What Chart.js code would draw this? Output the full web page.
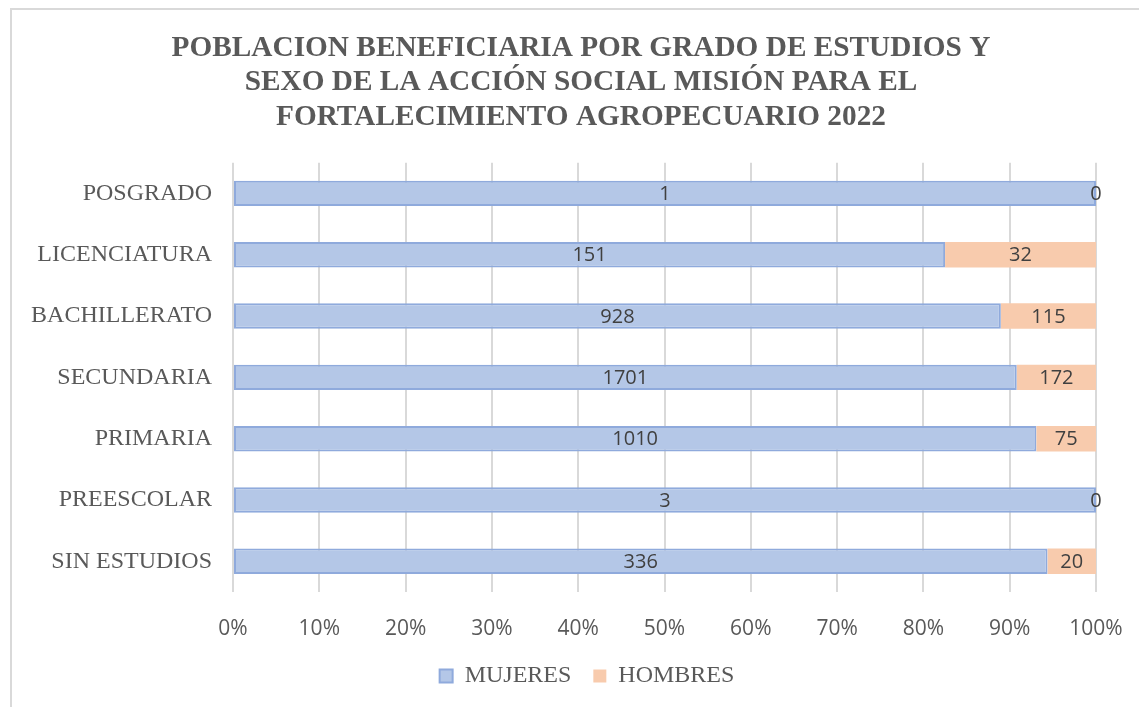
<!DOCTYPE html>
<html>
<head>
<meta charset="utf-8">
<script src="https://cdn.jsdelivr.net/npm/chart.js@4"></script>
<style>
  html, body { margin: 0; padding: 0; background: #fff; }
  #wrap { position: relative; width: 1139px; height: 707px; }
</style>
</head>
<body>
<div id="wrap"><canvas id="gradoChart" width="1139" height="707"></canvas></div>
<script>
const categorias = ['POSGRADO', 'LICENCIATURA', 'BACHILLERATO', 'SECUNDARIA', 'PRIMARIA', 'PREESCOLAR', 'SIN ESTUDIOS'];
const mujeres = [1, 151, 928, 1701, 1010, 3, 336];
const hombres = [0, 32, 115, 172, 75, 0, 20];
const tituloLineas = [
    'POBLACION BENEFICIARIA POR GRADO DE ESTUDIOS Y',
    'SEXO DE LA ACCIÓN SOCIAL MISIÓN PARA EL',
    'FORTALECIMIENTO AGROPECUARIO 2022'
];

// 100% stacked: convert counts to shares
const totales = mujeres.map((m, i) => m + hombres[i]);
const pctMujeres = mujeres.map((m, i) => m / totales[i] * 100);
const pctHombres = hombres.map((h, i) => h / totales[i] * 100);
const conteos = [mujeres, hombres];

const serif = '"Liberation Serif", "Times New Roman", serif';

const marco = {
    id: 'marco',
    beforeDraw(chart) {
        const c = chart.ctx;
        c.save();
        c.fillStyle = '#fff';
        c.fillRect(0, 0, chart.width, chart.height);
        c.strokeStyle = '#d9d9d9';
        c.lineWidth = 2;
        c.beginPath();
        c.moveTo(11, chart.height);
        c.lineTo(11, 9);
        c.lineTo(chart.width, 9);
        c.stroke();
        c.restore();
    }
};

// title and legend sit a bit right of the plot's centre in the original
const desplazar = {
    id: 'desplazar',
    afterLayout(chart) {
        if (chart.titleBlock) { chart.titleBlock.left += 28; chart.titleBlock.right += 28; }
        if (chart.legend) { chart.legend.left += 34; chart.legend.right += 34; }
    }
};

const etiquetas = {
    id: 'etiquetas',
    afterDatasetsDraw(chart) {
        const c = chart.ctx;
        c.save();
        c.font = '20px "Open Sans", sans-serif';
        c.fillStyle = '#404040';
        c.textAlign = 'center';
        c.textBaseline = 'middle';
        chart.data.datasets.forEach((ds, di) => {
            chart.getDatasetMeta(di).data.forEach((bar, i) => {
                const x = (bar.x + bar.base) / 2;
                c.fillText(String(conteos[di][i]), x, bar.y + 1);
            });
        });
        c.restore();
    }
};

new Chart(document.getElementById('gradoChart').getContext('2d'), {
    type: 'bar',
    data: {
        labels: categorias,
        datasets: [{
            label: 'MUJERES',
            data: pctMujeres,
            backgroundColor: '#b4c7e7',
            borderColor: '#8faadc',
            borderWidth: 2,
            borderSkipped: false,
            barPercentage: 0.415,
            categoryPercentage: 1
        }, {
            label: 'HOMBRES',
            data: pctHombres,
            backgroundColor: '#f8cbad',
            borderWidth: 0,
            barPercentage: 0.415,
            categoryPercentage: 1
        }]
    },
    options: {
        indexAxis: 'y',
        responsive: false,
        animation: false,
        layout: { padding: { left: 10, right: 43, top: 0, bottom: 9 } },
        scales: {
            x: {
                stacked: true,
                min: 0,
                max: 100,
                ticks: {
                    stepSize: 10,
                    padding: 24,
                    color: '#595959',
                    font: { family: '"Open Sans", sans-serif', size: 21 },
                    callback: v => v + '%'
                },
                grid: { color: '#d9d9d9', lineWidth: 2, drawTicks: false },
                border: { display: false },
                afterFit(scale) {
                    scale.height = 50;
                    scale.paddingLeft = 0;
                    scale.paddingRight = 0;
                }
            },
            y: {
                stacked: true,
                ticks: {
                    padding: 21,
                    color: '#595959',
                    font: { family: serif, size: 24 }
                },
                grid: { display: false, drawTicks: false },
                border: { display: false },
                afterFit(scale) { scale.width = 223; }
            }
        },
        plugins: {
            title: {
                display: true,
                text: tituloLineas,
                color: '#595959',
                font: { family: serif, size: 29.3, weight: 'bold', lineHeight: 1.18 },
                padding: { top: 31, bottom: 28 }
            },
            legend: {
                position: 'bottom',
                labels: {
                    color: '#595959',
                    font: { family: serif, size: 24 },
                    boxWidth: 13,
                    boxHeight: 13,
                    padding: 22
                }
            },
            tooltip: { enabled: false }
        }
    },
    plugins: [marco, desplazar, etiquetas]
});
</script>
</body>
</html>
